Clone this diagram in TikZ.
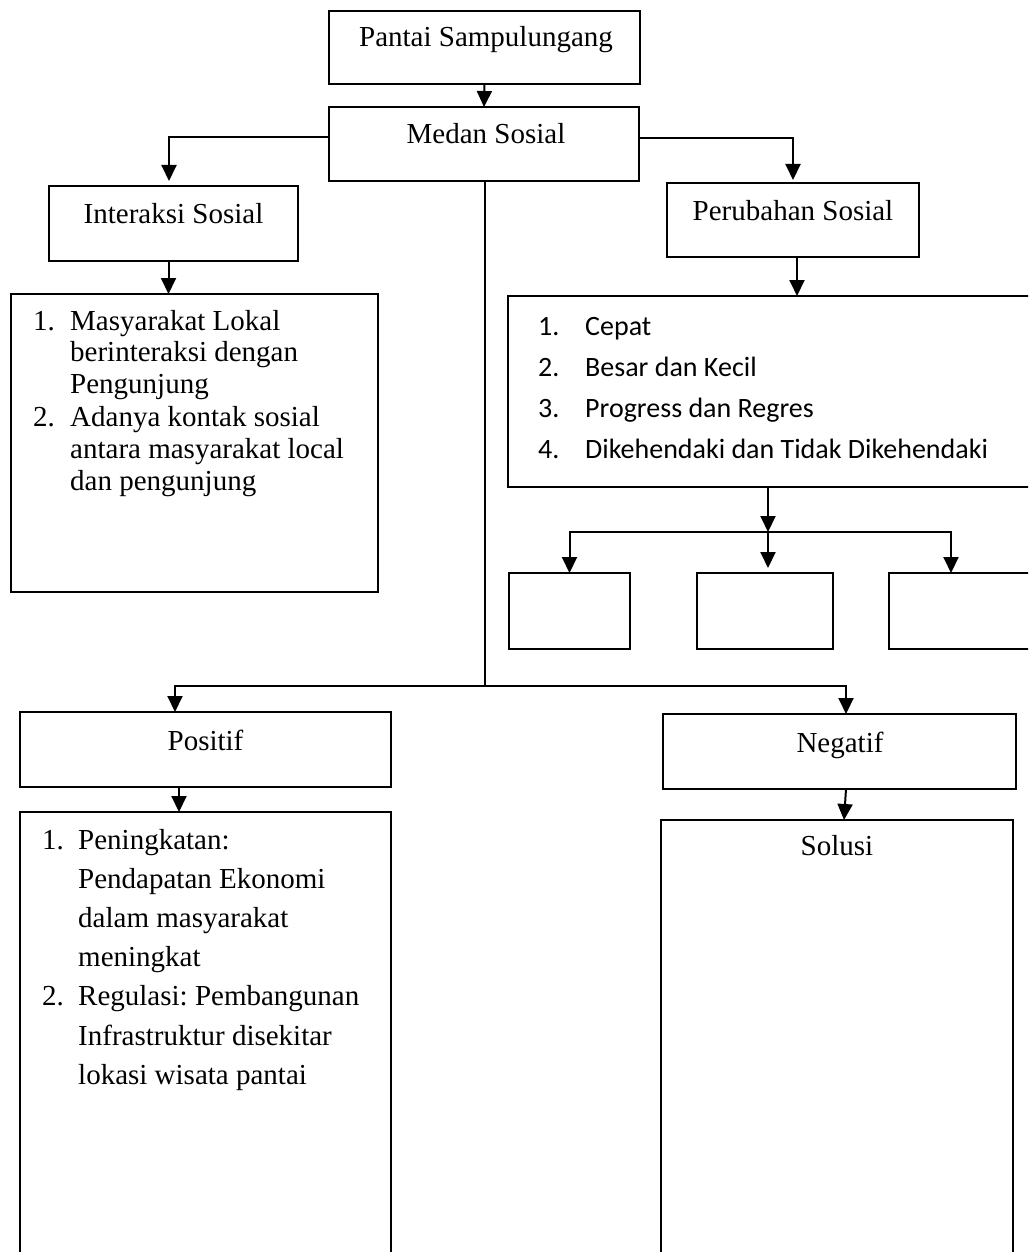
\documentclass[tikz,border=0pt]{standalone}
\usepackage{fontspec}
\setmainfont{Liberation Serif}
\newfontfamily\calib{Carlito}
\usetikzlibrary{arrows.meta}
\frenchspacing
\tikzset{
  box/.style={draw, line width=2pt, rectangle, inner sep=0pt, outer sep=0pt},
  lbl/.style={anchor=base, inner sep=0pt, font=\fontsize{29}{32}\selectfont},
  txt/.style={anchor=base west, inner sep=0pt, font=\fontsize{29}{32}\selectfont},
  ctxt/.style={anchor=base west, inner sep=0pt, font=\calib\fontsize{28}{32}\selectfont},
  conn/.style={line width=2pt},
  arr/.style={line width=2pt, -{Triangle[width=15pt,length=16pt]}}
}
\begin{document}
\begin{tikzpicture}[x=1pt,y=-1pt]
\useasboundingbox (0,0) rectangle (1028,1252);
\clip (0,0) rectangle (1028,1252);
\fill[white] (0,0) rectangle (1028,1252);

% boxes
\node[box, minimum width=311pt, minimum height=73pt] (pantai) at (484.5,47.5) {};
\node[box, minimum width=310pt, minimum height=74pt] (medan) at (484,144) {};
\node[box, minimum width=249pt, minimum height=75pt] (interaksi) at (173.5,223.5) {};
\node[box, minimum width=367pt, minimum height=298pt] (ilist) at (194.5,443) {};
\node[box, minimum width=252pt, minimum height=74pt] (perubahan) at (793,220) {};
\node[box, minimum width=537pt, minimum height=191pt] (plist) at (776.5,391.5) {};
\node[box, minimum width=121pt, minimum height=76pt] (sb1) at (569.5,611) {};
\node[box, minimum width=136pt, minimum height=76pt] (sb2) at (765,611) {};
\node[box, minimum width=156pt, minimum height=76pt] (sb3) at (967,611) {};
\node[box, minimum width=371pt, minimum height=75pt] (positif) at (205.5,749.5) {};
\node[box, minimum width=371pt, minimum height=458pt] (poslist) at (205.5,1041) {};
\node[box, minimum width=353pt, minimum height=75pt] (negatif) at (839.5,751.5) {};
\node[box, minimum width=352pt, minimum height=450pt] (solusi) at (837,1045) {};

% labels
\node[lbl] (tpantai) at (486,47) {Pantai Sampulungang};
\node[lbl] (tmedan) at (486,144) {Medan Sosial};
\node[lbl] (tinter) at (173.5,223) {Interaksi Sosial};
\node[lbl] (tperub) at (793,220) {Perubahan Sosial};
\node[lbl] (tpos) at (205.5,750) {Positif};
\node[lbl] (tneg) at (840,752) {Negatif};
\node[lbl] (tsol) at (837,855) {Solusi};

% Interaksi list
\node[txt] (i1n) at (33,330) {1.};
\node[txt] (i1a) at (70,330) {Masyarakat Lokal};
\node[txt] (i1b) at (70,361.5) {berinteraksi dengan};
\node[txt] (i1c) at (70,393) {Pengunjung};
\node[txt] (i2n) at (33,426.5) {2.};
\node[txt] (i2a) at (70,426.5) {Adanya kontak sosial};
\node[txt] (i2b) at (70,458.5) {antara masyarakat local};
\node[txt] (i2c) at (70,490) {dan pengunjung};

% Perubahan list
\node[ctxt] (p1n) at (538,335) {1.};
\node[ctxt] (p1) at (585,335) {Cepat};
\node[ctxt] (p2n) at (538,376) {2.};
\node[ctxt] (p2) at (585,376) {Besar dan Kecil};
\node[ctxt] (p3n) at (538,417) {3.};
\node[ctxt] (p3) at (585,417) {Progress dan Regres};
\node[ctxt] (p4n) at (538,458) {4.};
\node[ctxt] (p4) at (585,458) {Dikehendaki dan Tidak Dikehendaki};

% Positif list
\node[txt] (q1n) at (42,849.5) {1.};
\node[txt] (q1a) at (78,849.5) {Peningkatan:};
\node[txt] (q1b) at (78,888.6) {Pendapatan Ekonomi};
\node[txt] (q1c) at (78,927.7) {dalam masyarakat};
\node[txt] (q1d) at (78,966.8) {meningkat};
\node[txt] (q2n) at (42,1005.9) {2.};
\node[txt] (q2a) at (78,1005.9) {Regulasi: Pembangunan};
\node[txt] (q2b) at (78,1045) {Infrastruktur disekitar};
\node[txt] (q2c) at (78,1084) {lokasi wisata pantai};

% connectors
\draw[arr] (pantai.south) -- (medan.north);
\draw[arr, shorten >=5pt] ([yshift=7pt]medan.west) -| ([xshift=-4.5pt]interaksi.north);
\draw[arr] ([xshift=-5pt]interaksi.south) -- ([xshift=-5pt]interaksi.south |- ilist.north);
\draw[arr, shorten >=3pt] ([yshift=6pt]medan.east) -| (perubahan.north);
\draw[arr] ([xshift=4pt]perubahan.south) -- ([xshift=4pt]perubahan.south |- plist.north);

\coordinate (j) at (768,532);
\draw[arr] (j |- plist.south) -- (j);
\draw[arr] (j) -| (sb1.north);
\draw[arr, shorten >=5pt] (j) -- ([xshift=3pt]sb2.north);
\draw[arr] (j) -| ([xshift=-16pt]sb3.north);

\coordinate (k) at (485,686);
\draw[conn] (485,181) -- (k);
\draw[arr] (k) -| ([xshift=-30.5pt]positif.north);
\draw[arr] (k) -| ([xshift=6.5pt]negatif.north);
\draw[arr] ([xshift=-26.5pt]positif.south) -- ([xshift=-26.5pt]positif.south |- poslist.north);
\draw[arr] ([xshift=6.5pt]negatif.south) -- ([xshift=7pt]solusi.north);
\end{tikzpicture}
\end{document}
